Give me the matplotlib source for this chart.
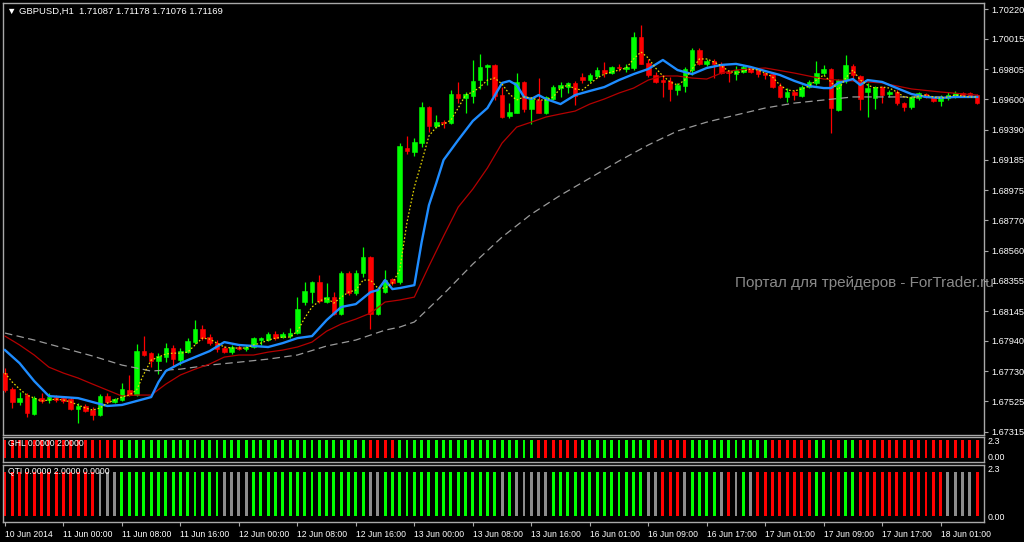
import matplotlib

matplotlib.use("Agg")
import matplotlib.pyplot as plt
import numpy as np

# GBPUSD H1 candles, one per hour from 10 Jun 2014 16:00
opens = [
    1.67719, 1.67609, 1.67520, 1.67568, 1.67438, 1.67547, 1.67534, 1.67554, 1.67547, 1.67540,
    1.67472, 1.67493, 1.67465, 1.67431, 1.67561, 1.67520, 1.67534, 1.67602, 1.67568, 1.67870,
    1.67856, 1.67801, 1.67829, 1.67891, 1.67808, 1.67863, 1.67932, 1.68021, 1.67966, 1.67925,
    1.67891, 1.67863, 1.67898, 1.67884, 1.67898, 1.67946, 1.67946, 1.67987, 1.67966, 1.67973,
    1.67994, 1.68207, 1.68275, 1.68344, 1.68207, 1.68241, 1.68125, 1.68406, 1.68268, 1.68406,
    1.68516, 1.68125, 1.68275, 1.68365, 1.68344, 1.69265, 1.69237, 1.69299, 1.69547, 1.69416,
    1.69443, 1.69436, 1.69636, 1.69609, 1.69622, 1.69732, 1.69822, 1.69836, 1.69629, 1.69485,
    1.69506, 1.69719, 1.69533, 1.69595, 1.69506, 1.69602, 1.69677, 1.69684, 1.69712, 1.69753,
    1.69732, 1.69760, 1.69801, 1.69780, 1.69822, 1.69808, 1.69815, 1.70028, 1.69850, 1.69767,
    1.69732, 1.69726, 1.69664, 1.69691, 1.69801, 1.69939, 1.69843, 1.69863, 1.69843, 1.69787,
    1.69773, 1.69787, 1.69822, 1.69801, 1.69780, 1.69773, 1.69691, 1.69616, 1.69650, 1.69622,
    1.69684, 1.69712, 1.69780, 1.69808, 1.69526, 1.69732, 1.69829, 1.69760, 1.69650, 1.69609,
    1.69684, 1.69636, 1.69650, 1.69574, 1.69547, 1.69609, 1.69636, 1.69616, 1.69588, 1.69609,
    1.69616, 1.69643, 1.69643, 1.69629,
]
highs = [
    1.67753, 1.67623, 1.67588, 1.67581, 1.67561, 1.67581, 1.67581, 1.67568, 1.67561, 1.67554,
    1.67513, 1.67507, 1.67486, 1.67575, 1.67581, 1.67547, 1.67650, 1.67706, 1.67919, 1.67973,
    1.67863, 1.67856, 1.67925, 1.67912, 1.67891, 1.67959, 1.68083, 1.68049, 1.67987, 1.67946,
    1.67905, 1.67912, 1.67912, 1.67912, 1.67966, 1.67966, 1.68001, 1.68007, 1.68001, 1.68028,
    1.68241, 1.68344, 1.68351, 1.68393, 1.68337, 1.68275, 1.68420, 1.68420, 1.68427, 1.68585,
    1.68523, 1.68303, 1.68427, 1.68372, 1.69299, 1.69348, 1.69334, 1.69581, 1.69554, 1.69492,
    1.69457, 1.69664, 1.69719, 1.69650, 1.69870, 1.69911, 1.69843, 1.69843, 1.69684, 1.69574,
    1.69780, 1.69726, 1.69616, 1.69746, 1.69622, 1.69698, 1.69719, 1.69719, 1.69726, 1.69780,
    1.69780, 1.69822, 1.69856, 1.69829, 1.69843, 1.69843, 1.70062, 1.70110, 1.69877, 1.69787,
    1.69767, 1.69753, 1.69712, 1.69822, 1.69952, 1.69952, 1.69877, 1.69877, 1.69856, 1.69801,
    1.69829, 1.69836, 1.69829, 1.69815, 1.69787, 1.69787, 1.69712, 1.69677, 1.69664, 1.69698,
    1.69732, 1.69863, 1.69836, 1.69815, 1.69739, 1.69904, 1.69843, 1.69767, 1.69712, 1.69691,
    1.69691, 1.69664, 1.69664, 1.69581, 1.69622, 1.69650, 1.69643, 1.69622, 1.69629, 1.69650,
    1.69657, 1.69650, 1.69650, 1.69636,
]
lows = [
    1.67588, 1.67479, 1.67500, 1.67417, 1.67431, 1.67513, 1.67513, 1.67520, 1.67513, 1.67465,
    1.67375, 1.67451, 1.67396, 1.67424, 1.67513, 1.67513, 1.67527, 1.67561, 1.67561, 1.67836,
    1.67760, 1.67713, 1.67794, 1.67760, 1.67774, 1.67856, 1.67919, 1.67946, 1.67912, 1.67863,
    1.67856, 1.67850, 1.67877, 1.67870, 1.67891, 1.67912, 1.67939, 1.67946, 1.67959, 1.67959,
    1.67987, 1.68187, 1.68200, 1.68200, 1.68200, 1.68118, 1.68118, 1.68255, 1.68255, 1.68379,
    1.68021, 1.68118, 1.68268, 1.68323, 1.68330, 1.69224, 1.69210, 1.69272, 1.69375, 1.69402,
    1.69402, 1.69430, 1.69574, 1.69506, 1.69574, 1.69671, 1.69698, 1.69595, 1.69471, 1.69471,
    1.69506, 1.69513, 1.69430, 1.69506, 1.69499, 1.69595, 1.69616, 1.69643, 1.69561, 1.69712,
    1.69719, 1.69746, 1.69753, 1.69773, 1.69794, 1.69787, 1.69801, 1.69843, 1.69753, 1.69712,
    1.69616, 1.69588, 1.69629, 1.69650, 1.69767, 1.69836, 1.69829, 1.69746, 1.69773, 1.69719,
    1.69732, 1.69780, 1.69780, 1.69753, 1.69739, 1.69677, 1.69609, 1.69581, 1.69595, 1.69616,
    1.69677, 1.69698, 1.69767, 1.69368, 1.69519, 1.69712, 1.69732, 1.69526, 1.69478, 1.69533,
    1.69574, 1.69616, 1.69561, 1.69519, 1.69533, 1.69595, 1.69609, 1.69581, 1.69554, 1.69595,
    1.69609, 1.69622, 1.69616, 1.69567,
]
closes = [
    1.67602, 1.67520, 1.67547, 1.67444, 1.67547, 1.67527, 1.67554, 1.67534, 1.67527, 1.67472,
    1.67493, 1.67458, 1.67431, 1.67561, 1.67520, 1.67540, 1.67609, 1.67568, 1.67870, 1.67843,
    1.67801, 1.67836, 1.67891, 1.67815, 1.67870, 1.67939, 1.68021, 1.67959, 1.67925, 1.67884,
    1.67863, 1.67898, 1.67884, 1.67898, 1.67959, 1.67959, 1.67987, 1.67959, 1.67987, 1.67994,
    1.68159, 1.68282, 1.68344, 1.68214, 1.68241, 1.68125, 1.68406, 1.68268, 1.68406, 1.68516,
    1.68125, 1.68296, 1.68358, 1.68337, 1.69279, 1.69244, 1.69306, 1.69547, 1.69416, 1.69443,
    1.69436, 1.69636, 1.69609, 1.69636, 1.69726, 1.69822, 1.69836, 1.69622, 1.69478, 1.69513,
    1.69719, 1.69533, 1.69602, 1.69506, 1.69616, 1.69684, 1.69698, 1.69712, 1.69622, 1.69732,
    1.69767, 1.69801, 1.69780, 1.69822, 1.69815, 1.69822, 1.70028, 1.69843, 1.69767, 1.69719,
    1.69719, 1.69671, 1.69698, 1.69808, 1.69939, 1.69843, 1.69863, 1.69843, 1.69780, 1.69780,
    1.69801, 1.69822, 1.69787, 1.69773, 1.69767, 1.69684, 1.69616, 1.69650, 1.69629, 1.69684,
    1.69719, 1.69780, 1.69808, 1.69540, 1.69732, 1.69836, 1.69767, 1.69602, 1.69677, 1.69684,
    1.69629, 1.69650, 1.69574, 1.69547, 1.69616, 1.69643, 1.69616, 1.69588, 1.69616, 1.69629,
    1.69643, 1.69629, 1.69622, 1.69574,
]

# moving averages (bar index -> price)
blue_bars = [0, 2, 4, 6, 8, 10, 12, 14, 16, 18, 20, 21, 22, 24, 26, 28, 30, 32, 34, 36,
             38, 40, 42, 44, 46, 48, 50, 51, 52, 53, 54, 56, 57, 58, 59, 60, 62, 64, 66, 68,
             69, 70, 71, 72, 73, 74, 76, 78, 80, 82, 84, 86, 88, 90, 92, 94, 96, 98, 100, 102,
             104, 106, 108, 110, 112, 113, 114, 116, 117, 118, 120, 122, 124, 126, 128, 130, 132, 133]
blue_ma = [1.67877, 1.67787, 1.67664, 1.67561, 1.67554, 1.67547, 1.67520, 1.67493, 1.67500, 1.67527,
           1.67554, 1.67657, 1.67733, 1.67787, 1.67829, 1.67870, 1.67932, 1.67912, 1.67905, 1.67898,
           1.67925, 1.67959, 1.67973, 1.68083, 1.68173, 1.68193, 1.68275, 1.68289, 1.68358, 1.68296,
           1.68303, 1.68323, 1.68619, 1.68873, 1.69024, 1.69183, 1.69320, 1.69451, 1.69540, 1.69712,
           1.69726, 1.69698, 1.69616, 1.69602, 1.69629, 1.69602, 1.69567, 1.69629, 1.69657, 1.69684,
           1.69732, 1.69773, 1.69808, 1.69870, 1.69801, 1.69773, 1.69815, 1.69836, 1.69843, 1.69822,
           1.69794, 1.69767, 1.69726, 1.69691, 1.69677, 1.69677, 1.69712, 1.69739, 1.69698, 1.69732,
           1.69719, 1.69677, 1.69636, 1.69616, 1.69609, 1.69616, 1.69616, 1.69616]

red_bars = list(range(0, 101, 2)) + [104, 108, 112, 116, 120, 124, 128, 133]
red_ma = [1.67973, 1.67912, 1.67843, 1.67760, 1.67719, 1.67685, 1.67643, 1.67602, 1.67561, 1.67568,
          1.67568, 1.67643, 1.67706, 1.67746, 1.67781, 1.67829, 1.67843, 1.67843, 1.67863, 1.67877,
          1.67898, 1.67932, 1.68007, 1.68056, 1.68090, 1.68131, 1.68207, 1.68221, 1.68241, 1.68454,
          1.68660, 1.68859, 1.68983, 1.69128, 1.69299, 1.69409, 1.69443, 1.69478, 1.69499, 1.69519,
          1.69567, 1.69602, 1.69643, 1.69677, 1.69732, 1.69760, 1.69760, 1.69746, 1.69739, 1.69780,
          1.69801,
          1.69815, 1.69780, 1.69739, 1.69726, 1.69712, 1.69671, 1.69650, 1.69629]

gray_bars = [0, 4, 8, 12, 16, 20, 24, 28, 32, 36, 40, 44, 48, 52, 54, 56, 60, 64, 68, 72,
             76, 80, 84, 88, 92, 96, 100, 104, 108, 112, 116, 120, 126, 133]
gray_ma = [1.67994, 1.67946, 1.67891, 1.67836, 1.67774, 1.67733, 1.67746, 1.67774, 1.67794, 1.67815,
           1.67843, 1.67905, 1.67946, 1.68014, 1.68035, 1.68070, 1.68262, 1.68468, 1.68653, 1.68811,
           1.68941, 1.69058, 1.69176, 1.69286, 1.69382, 1.69443, 1.69492, 1.69540, 1.69574, 1.69595,
           1.69616, 1.69616, 1.69616, 1.69616]

yellow_ma = [
    1.67719, 1.67657, 1.67609, 1.67568, 1.67547, 1.67527, 1.67534, 1.67540, 1.67534, 1.67520,
    1.67500, 1.67479, 1.67465, 1.67479, 1.67513, 1.67534, 1.67554, 1.67568, 1.67602, 1.67713,
    1.67808, 1.67829, 1.67850, 1.67856, 1.67856, 1.67863, 1.67912, 1.67959, 1.67953, 1.67925,
    1.67898, 1.67891, 1.67891, 1.67891, 1.67912, 1.67925, 1.67946, 1.67959, 1.67966, 1.67966,
    1.68007, 1.68097, 1.68173, 1.68214, 1.68234, 1.68200, 1.68241, 1.68275, 1.68289, 1.68358,
    1.68358, 1.68303, 1.68303, 1.68337, 1.68427, 1.68756, 1.68997, 1.69169, 1.69348, 1.69409,
    1.69430, 1.69457, 1.69540, 1.69629, 1.69650, 1.69684, 1.69732, 1.69746, 1.69705, 1.69636,
    1.69595, 1.69616, 1.69609, 1.69595, 1.69595, 1.69616, 1.69677, 1.69698, 1.69671, 1.69664,
    1.69705, 1.69746, 1.69773, 1.69787, 1.69801, 1.69815, 1.69877, 1.69925, 1.69884, 1.69815,
    1.69760, 1.69719, 1.69698, 1.69732, 1.69808, 1.69877, 1.69877, 1.69856, 1.69829, 1.69794,
    1.69780, 1.69794, 1.69808, 1.69801, 1.69780, 1.69753, 1.69698, 1.69664, 1.69657, 1.69671,
    1.69691, 1.69732, 1.69767, 1.69719, 1.69664, 1.69746, 1.69801, 1.69732, 1.69698, 1.69677,
    1.69684, 1.69677, 1.69650, 1.69616, 1.69609, 1.69622, 1.69629, 1.69616, 1.69609, 1.69616,
    1.69629, 1.69622, 1.69616, 1.69616,
]

# indicator states as runs of (state, number of bars)
ghl_runs = [("R", 16), ("G", 34), ("R", 4), ("G", 19), ("R", 6), ("G", 10), ("R", 5),
            ("G", 11), ("R", 6), ("G", 2), ("R", 2), ("G", 2), ("R", 17)]
qti_runs = [("R", 13), ("N", 3), ("G", 14), ("N", 4), ("G", 16), ("N", 2), ("G", 16),
            ("N", 1), ("G", 1), ("N", 5), ("G", 13), ("N", 2), ("R", 3), ("N", 1),
            ("G", 4), ("N", 1), ("R", 1), ("N", 1), ("G", 1), ("N", 1), ("R", 8),
            ("G", 2), ("R", 2), ("G", 2), ("R", 12), ("N", 4), ("R", 1)]

price_ticks = [1.70220, 1.70015, 1.69805, 1.69600, 1.69390, 1.69185, 1.68975, 1.68770,
               1.68560, 1.68355, 1.68145, 1.67940, 1.67730, 1.67525, 1.67315]
time_tick_bars = list(range(0, 129, 8))
time_labels = ["10 Jun 2014", "11 Jun 00:00", "11 Jun 08:00", "11 Jun 16:00", "12 Jun 00:00",
               "12 Jun 08:00", "12 Jun 16:00", "13 Jun 00:00", "13 Jun 08:00", "13 Jun 16:00",
               "16 Jun 01:00", "16 Jun 09:00", "16 Jun 17:00", "17 Jun 01:00", "17 Jun 09:00",
               "17 Jun 17:00", "18 Jun 01:00"]

W, H = 1024, 542
BULL, BEAR, NEUTRAL = "#00ff00", "#ff0000", "#8c8c8c"
FRAME = "#a8a8a8"
FONT = ["Liberation Sans", "DejaVu Sans"]
plt.rcParams["font.family"] = FONT
state_color = {"G": BULL, "R": BEAR, "N": NEUTRAL}


def px_axes(fig, left, top, right, bottom):
    return fig.add_axes([left / W, 1 - bottom / H, (right - left) / W, (bottom - top) / H])


def style_panel(ax):
    ax.set_facecolor("black")
    for sp in ax.spines.values():
        sp.set_color(FRAME)
        sp.set_linewidth(1)
    ax.set_xlim(-0.27, 133.93)


def expand(runs):
    out = []
    for state, count in runs:
        out += [state_color[state]] * count
    return out


fig = plt.figure(figsize=(W / 100, H / 100), dpi=100, facecolor="black")

# main price panel
ax = px_axes(fig, 3, 3, 984, 435)
style_panel(ax)
ax.set_ylim(1.672936, 1.702614)

o, h, l, c = (np.array(v) for v in (opens, highs, lows, closes))
x = np.arange(len(o))
cols = np.where(c >= o, BULL, BEAR)
ax.vlines(x, l, h, colors=cols, lw=0.9, zorder=2)
body = np.maximum(np.abs(c - o), 0.00004)
ax.bar(x, body, bottom=np.minimum(o, c), width=0.62, color=cols,
       edgecolor=cols, lw=0.4, zorder=3)

ax.plot(gray_bars, gray_ma, color="#9a9a9a", lw=0.9, dashes=(6, 3.5), zorder=4)
ax.plot(red_bars, red_ma, color="#b40000", lw=0.9, zorder=4)
ax.plot(blue_bars, blue_ma, color="#1e8cff", lw=1.7, zorder=5)
ax.plot(x, yellow_ma, color="#e8d800", lw=0.9, dashes=(1.3, 1.6), zorder=6)

ax.yaxis.tick_right()
ax.set_yticks(price_ticks)
ax.set_yticklabels([f"{p:.5f}" for p in price_ticks])
ax.tick_params(axis="y", length=3, color=FRAME, labelcolor="white", labelsize=6.6, pad=2)
ax.set_xticks([])

# GHL panel
ax2 = px_axes(fig, 3, 437, 984, 462)
style_panel(ax2)
ax2.set_ylim(-0.47, 2.35)
ax2.bar(x, 2.0, bottom=0, width=0.4, color=expand(ghl_runs))
ax2.set_xticks([])
ax2.set_yticks([])

# QTI panel
ax3 = px_axes(fig, 3, 465, 984, 522)
style_panel(ax3)
ax3.set_ylim(-0.27, 2.32)
ax3.bar(x, 2.0, bottom=0, width=0.4, color=expand(qti_runs))
ax3.set_yticks([])
ax3.set_xticks(time_tick_bars)
ax3.set_xticklabels(time_labels, ha="left")
ax3.tick_params(axis="x", length=3, color=FRAME, labelcolor="white", labelsize=6.2, pad=3)


def ftext(px, py, s, **kw):
    fig.text(px / W, 1 - py / H, s, va="center", **kw)


ftext(7, 11, "\u25bc GBPUSD,H1  1.71087 1.71178 1.71076 1.71169", color="white", fontsize=6.8)
ftext(8, 443, "GHL 0.0000 2.0000", color="white", fontsize=6.2)
ftext(8, 471, "QTI 0.0000 2.0000 0.0000", color="white", fontsize=6.2)
ftext(988, 442, "2.3", color="white", fontsize=6.4)
ftext(988, 457, "0.00", color="white", fontsize=6.4)
ftext(988, 470, "2.3", color="white", fontsize=6.4)
ftext(988, 517, "0.00", color="white", fontsize=6.4)
ftext(735, 283, "Портал для трейдеров - ForTrader.ru", color="#8a8a8a", fontsize=11)

fig.savefig("out.png", dpi=100, facecolor="black")
